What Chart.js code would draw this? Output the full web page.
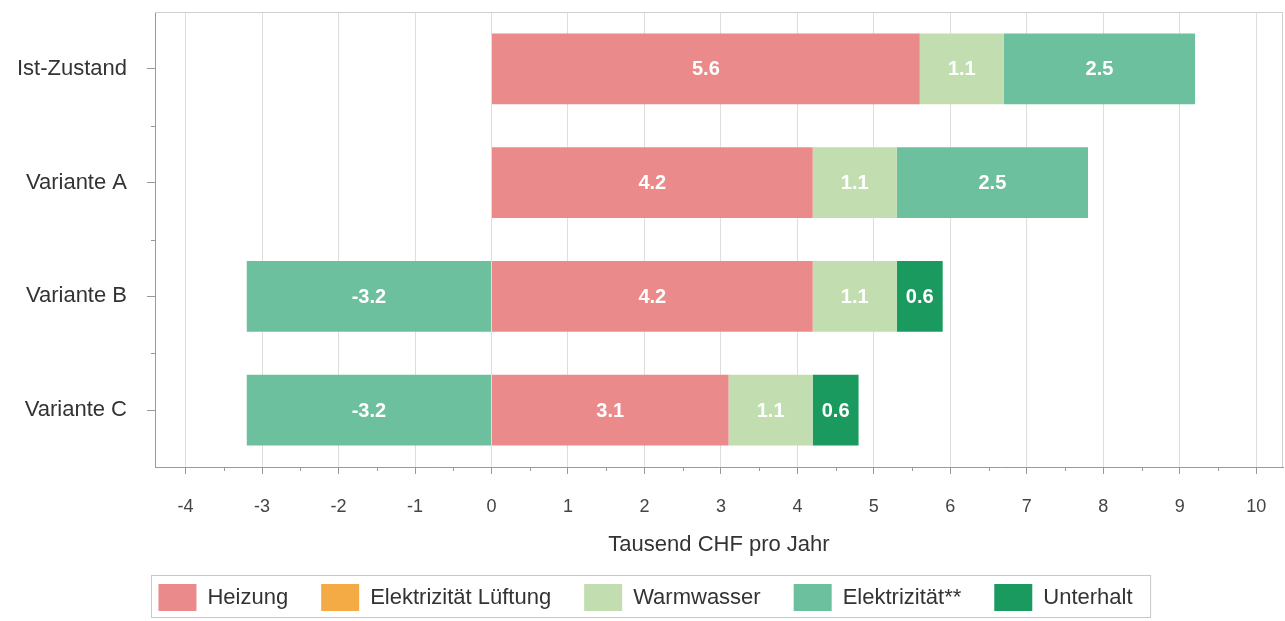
<!DOCTYPE html>
<html>
<head>
<meta charset="utf-8">
<title>Jährliche Kosten</title>
<script src="https://cdn.jsdelivr.net/npm/chart.js@4/dist/chart.umd.min.js"></script>
<style>
  html, body { margin: 0; padding: 0; background: #ffffff; }
  #wrap { width: 1285px; height: 621px; position: relative; }
</style>
</head>
<body>
<div id="wrap"><canvas id="chart"></canvas></div>
<script>
// Kosten je Variante in Tausend CHF pro Jahr
const categories = ['Ist-Zustand', 'Variante A', 'Variante B', 'Variante C'];
const heizung = [5.6, 4.2, 4.2, 3.1];
const elektrizitaetLueftung = [0, 0, 0, 0];
const warmwasser = [1.1, 1.1, 1.1, 1.1];
const elektrizitaet = [2.5, 2.5, -3.2, -3.2];
const unterhalt = [0, 0, 0.6, 0.6];
const seriesNames = ['Heizung', 'Elektrizität Lüftung', 'Warmwasser', 'Elektrizität**', 'Unterhalt'];
const xTickValues = [-4, -3, -2, -1, 0, 1, 2, 3, 4, 5, 6, 7, 8, 9, 10];
const xMinorTickValues = [-3.5, -2.5, -1.5, -0.5, 0.5, 1.5, 2.5, 3.5, 4.5, 5.5, 6.5, 7.5, 8.5, 9.5];
const xAxisTitle = 'Tausend CHF pro Jahr';

const FONT = '"Liberation Sans", Arial, sans-serif';
const colors = ['#EA8A8A', '#F4AA45', '#C2DEB0', '#6DC09E', '#1A9A5E'];
const seriesData = [heizung, elektrizitaetLueftung, warmwasser, elektrizitaet, unterhalt];

// Wert in die Mitte jedes Balkensegments schreiben
const valueLabels = {
  id: 'valueLabels',
  afterDatasetsDraw(chart) {
    const ctx = chart.ctx;
    ctx.save();
    ctx.font = 'bold 20px ' + FONT;
    ctx.fillStyle = '#ffffff';
    ctx.textAlign = 'center';
    ctx.textBaseline = 'middle';
    chart.data.datasets.forEach((ds, di) => {
      const meta = chart.getDatasetMeta(di);
      meta.data.forEach((el, i) => {
        const v = ds.data[i];
        if (!v) return;
        ctx.fillText(v.toFixed(1), (el.x + el.base) / 2, el.y + 1);
      });
    });
    ctx.restore();
  }
};

// Rahmen oben/rechts, Zwischenstriche an den Achsen, Rahmen um die Legende
const frame = {
  id: 'frame',
  afterDraw(chart) {
    const ctx = chart.ctx;
    const a = chart.chartArea;
    const xs = chart.scales.x, ys = chart.scales.y;
    ctx.save();
    ctx.lineWidth = 1;
    ctx.strokeStyle = '#cfcfcf';
    ctx.beginPath();
    ctx.moveTo(a.left, a.top + 0.5); ctx.lineTo(a.right, a.top + 0.5);
    ctx.moveTo(a.right - 0.5, a.top); ctx.lineTo(a.right - 0.5, a.bottom);
    ctx.stroke();

    ctx.strokeStyle = '#999999';
    ctx.beginPath();
    xMinorTickValues.forEach(v => {
      const px = Math.round(xs.getPixelForValue(v)) + 0.5;
      ctx.moveTo(px, a.bottom); ctx.lineTo(px, a.bottom + 4);
    });
    for (let i = 0; i < categories.length - 1; i++) {
      const py = Math.round(ys.getPixelForValue(i + 0.5)) + 0.5;
      ctx.moveTo(a.left - 4, py); ctx.lineTo(a.left, py);
    }
    ctx.stroke();

    const boxes = chart.legend.legendHitBoxes;
    if (boxes && boxes.length) {
      const first = boxes[0], last = boxes[boxes.length - 1];
      const l = first.left - 7, r = last.left + last.width + 18;
      const t = first.top - 9, b = first.top + first.height + 6;
      ctx.strokeStyle = '#c8c8c8';
      ctx.strokeRect(Math.round(l) + 0.5, Math.round(t) + 0.5, r - l, b - t);
    }
    ctx.restore();
  }
};

new Chart(document.getElementById('chart'), {
  type: 'bar',
  data: {
    labels: categories,
    datasets: seriesNames.map((name, i) => ({
      label: name,
      data: seriesData[i],
      backgroundColor: colors[i],
      borderWidth: 0,
      categoryPercentage: 0.8,
      barPercentage: 0.78
    }))
  },
  options: {
    indexAxis: 'y',
    responsive: true,
    maintainAspectRatio: false,
    animation: false,
    layout: { padding: { top: 12, right: 2, left: 8, bottom: 0 } },
    plugins: {
      tooltip: { enabled: false },
      legend: {
        position: 'bottom',
        align: 'center',
        labels: {
          boxWidth: 38,
          boxHeight: 27,
          padding: 33,
          color: '#333333',
          font: { family: FONT, size: 22 }
        }
      }
    },
    scales: {
      x: {
        stacked: true,
        type: 'linear',
        min: -4.4,
        max: 10.35,
        afterBuildTicks(scale) { scale.ticks = xTickValues.map(v => ({ value: v })); },
        afterFit(scale) {
          scale.height = 84;
          scale.paddingLeft = 0;
          scale.paddingRight = 0;
        },
        ticks: {
          color: '#444444',
          padding: 22,
          font: { family: FONT, size: 18 },
          callback: v => String(v)
        },
        grid: { color: '#dedede', tickColor: '#999999', tickLength: 7 },
        border: { display: true, color: '#999999' },
        title: {
          display: true,
          text: xAxisTitle,
          color: '#333333',
          font: { family: FONT, size: 22 },
          padding: { top: 0, bottom: -7 }
        }
      },
      y: {
        stacked: true,
        afterFit(scale) {
          scale.width = 147;
          scale.paddingTop = 0;
          scale.paddingBottom = 0;
        },
        ticks: {
          color: '#333333',
          padding: 20,
          font: { family: FONT, size: 22 }
        },
        grid: { offset: false, drawOnChartArea: false, drawTicks: true, tickLength: 8, tickColor: '#999999' },
        border: { display: true, color: '#999999' }
      }
    }
  },
  plugins: [valueLabels, frame]
});
</script>
</body>
</html>
